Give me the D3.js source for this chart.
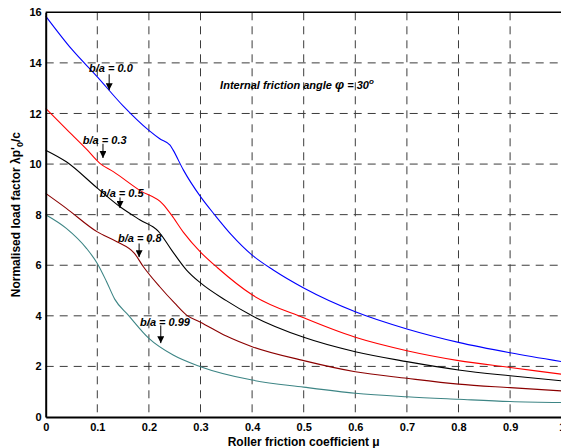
<!DOCTYPE html>
<html>
<head>
  <meta charset="utf-8">
  <style>
    body { margin: 0; background: #fff; }
    svg { display: block; font-family: Arial, "Liberation Sans", sans-serif; }
    .tick-label { font-size: 11px; font-weight: bold; }
    .note { font-size: 11px; font-weight: bold; font-style: italic; }
  </style>
</head>
<body>
  <script src="https://cdn.jsdelivr.net/npm/d3@7"></script>
  <script>
    // data: mu (roller friction) vs normalised load factor
    var muA = [0, 0.05, 0.1, 0.15, 0.2, 0.221, 0.241, 0.247, 0.267, 0.3, 0.328, 0.36, 0.4, 0.441, 0.5, 0.6, 0.7, 0.8, 0.9, 1.0];
    var lamA = [15.85, 14.55, 13.45, 12.3, 11.33, 11.0, 10.75, 10.55, 9.76, 8.71, 7.98, 7.2, 6.4, 5.81, 5.1, 4.16, 3.48, 2.95, 2.54, 2.19];

    var muB = [0, 0.04, 0.08, 0.105, 0.131, 0.183, 0.228, 0.244, 0.267, 0.3, 0.333, 0.4, 0.5, 0.6, 0.7, 0.8, 0.9, 1.0];
    var lamB = [12.2, 11.38, 10.57, 10.03, 9.7, 8.95, 8.4, 7.98, 7.3, 6.52, 5.9, 4.83, 3.92, 3.15, 2.62, 2.23, 1.96, 1.69];

    var muC = [0, 0.04, 0.1, 0.144, 0.183, 0.218, 0.244, 0.273, 0.3, 0.35, 0.4, 0.5, 0.6, 0.7, 0.8, 0.9, 1.0];
    var lamC = [10.55, 10.09, 9.05, 8.31, 7.79, 7.35, 6.6, 5.81, 5.3, 4.6, 4.0, 3.15, 2.58, 2.19, 1.86, 1.63, 1.43];

    var muD = [0, 0.04, 0.1, 0.138, 0.172, 0.189, 0.221, 0.25, 0.273, 0.3, 0.35, 0.4, 0.5, 0.6, 0.7, 0.8, 0.9, 1.0];
    var lamD = [8.84, 8.25, 7.32, 6.93, 6.47, 5.95, 5.15, 4.5, 4.03, 3.75, 3.2, 2.78, 2.23, 1.79, 1.53, 1.30, 1.16, 1.03];

    var muE = [0, 0.04, 0.079, 0.1, 0.118, 0.134, 0.16, 0.2, 0.247, 0.3, 0.4, 0.5, 0.6, 0.7, 0.8, 0.9, 1.0];
    var lamE = [8.0, 7.46, 6.67, 6.07, 5.35, 4.65, 4.03, 3.11, 2.45, 1.99, 1.46, 1.18, 0.94, 0.80, 0.70, 0.61, 0.57];

    var seriesColors = ["#0000ff", "#ff0000", "#000000", "#8b0000", "#3d8585"];

    var xTicks = [0, 0.1, 0.2, 0.3, 0.4, 0.5, 0.6, 0.7, 0.8, 0.9, 1];
    var xTickLabels = ["0", "0.1", "0.2", "0.3", "0.4", "0.5", "0.6", "0.7", "0.8", "0.9", "1"];
    var yTicks = [0, 2, 4, 6, 8, 10, 12, 14, 16];

    // labels: text, text left (mu), text middle (lambda), arrow mu, arrow from, arrow to
    var noteText = ["b/a = 0.0", "b/a = 0.3", "b/a = 0.5", "b/a = 0.8", "b/a = 0.99"];
    var noteMu = [0.084, 0.072, 0.105, 0.14, 0.183];
    var noteLam = [13.8, 10.95, 8.85, 7.07, 3.75];
    var arrowMu = [0.123, 0.111, 0.144, 0.181, 0.223];
    var arrowFrom = [13.55, 10.8, 8.68, 6.86, 3.62];
    var arrowTo = [12.92, 10.24, 8.26, 6.32, 2.92];

    var margin = {top: 12.3, left: 45.7};
    var width = 516, height = 404.7;

    var svg = d3.select("body").append("svg")
        .attr("width", 561)
        .attr("height", 448);

    var defs = svg.append("defs");
    defs.append("marker")
        .attr("id", "arrow")
        .attr("viewBox", "0 0 10 10")
        .attr("refX", 10).attr("refY", 5)
        .attr("markerWidth", 7).attr("markerHeight", 7)
        .attr("markerUnits", "userSpaceOnUse")
        .attr("orient", "auto")
        .append("path")
        .attr("d", "M0,0 L10,5 L0,10 Z")
        .attr("fill", "#000");

    var g = svg.append("g")
        .attr("transform", "translate(" + margin.left + "," + margin.top + ")");

    var x = d3.scaleLinear().domain([0, 1]).range([0, width]);
    var y = d3.scaleLinear().domain([0, 16]).range([height, 0]);

    // grid
    g.append("g").selectAll("line")
        .data(xTicks.slice(1, -1))
        .enter().append("line")
        .attr("x1", d => x(d)).attr("x2", d => x(d))
        .attr("y1", 0).attr("y2", height)
        .attr("stroke", "#3c3c3c")
        .attr("stroke-width", 1)
        .attr("stroke-dasharray", "8,6");

    g.append("g").selectAll("line")
        .data(yTicks.slice(1, -1))
        .enter().append("line")
        .attr("x1", 0).attr("x2", width)
        .attr("y1", d => y(d)).attr("y2", d => y(d))
        .attr("stroke", "#3c3c3c")
        .attr("stroke-width", 1)
        .attr("stroke-dasharray", "8,6");

    // curves
    var line = d3.line()
        .x(d => x(d[0]))
        .y(d => y(d[1]))
        .curve(d3.curveMonotoneX);

    var allMu = [muA, muB, muC, muD, muE];
    var allLam = [lamA, lamB, lamC, lamD, lamE];
    allMu.forEach(function(mu, i) {
      var pts = mu.map((m, j) => [m, allLam[i][j]]);
      g.append("path")
          .attr("d", line(pts))
          .attr("fill", "none")
          .attr("stroke", seriesColors[i])
          .attr("stroke-width", 1.1);
    });

    // axes
    var xAxis = g.append("g")
        .attr("transform", "translate(0," + height + ")")
        .call(d3.axisBottom(x).tickValues(xTicks).tickSize(0).tickPadding(6)
              .tickFormat((d, i) => xTickLabels[i]));
    var yAxis = g.append("g")
        .call(d3.axisLeft(y).tickValues(yTicks).tickSize(0).tickPadding(4));

    [xAxis, yAxis].forEach(function(a) {
      a.select(".domain").attr("stroke", "#000").attr("stroke-width", 2);
      a.selectAll("text").attr("class", "tick-label")
          .attr("fill", "#000")
          .style("font-family", "Arial, 'Liberation Sans', sans-serif");
    });

    // top border
    g.append("line")
        .attr("x1", 0).attr("x2", width)
        .attr("y1", 0).attr("y2", 0)
        .attr("stroke", "#000").attr("stroke-width", 1.5);

    // annotations
    noteText.forEach(function(t, i) {
      g.append("text")
          .attr("class", "note")
          .attr("x", x(noteMu[i]))
          .attr("y", y(noteLam[i]))
          .attr("dy", "0.35em")
          .text(t);
      g.append("line")
          .attr("x1", x(arrowMu[i])).attr("x2", x(arrowMu[i]))
          .attr("y1", y(arrowFrom[i])).attr("y2", y(arrowTo[i]))
          .attr("stroke", "#000").attr("stroke-width", 1)
          .attr("marker-end", "url(#arrow)");
    });

    var angle = g.append("text")
        .attr("class", "note")
        .attr("x", x(0.338))
        .attr("y", y(13.12))
        .attr("dy", "0.35em");
    angle.append("tspan").text("Internal friction angle ");
    angle.append("tspan").style("font-size", "13px").text("\u03c6");
    angle.append("tspan").text(" = 30");
    angle.append("tspan").attr("dy", "-5").style("font-size", "8px").text("o");

    // axis titles
    svg.append("text")
        .attr("x", margin.left + width / 2)
        .attr("y", 446)
        .attr("text-anchor", "middle")
        .style("font-size", "12px")
        .style("font-weight", "bold")
        .text("Roller friction coefficient \u03bc");

    var yl = svg.append("text")
        .attr("transform", "translate(20," + (margin.top + height / 2) + ") rotate(-90)")
        .attr("text-anchor", "middle")
        .style("font-size", "12px")
        .style("font-weight", "bold");
    yl.append("tspan").text("Normalised load factor \u03bbp'");
    yl.append("tspan").attr("dy", 3).style("font-size", "9px").text("0");
    yl.append("tspan").attr("dy", -3).text("/c");
  </script>
</body>
</html>
